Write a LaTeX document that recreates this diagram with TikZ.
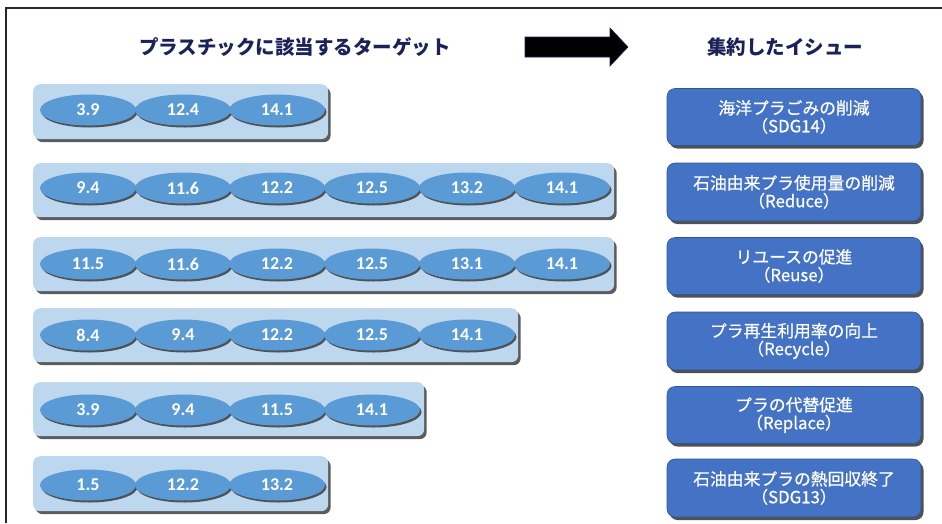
\documentclass[tikz,border=0pt]{standalone}
\usepackage{fontspec}
\setsansfont{Carlito}
\newfontfamily\jp{Noto Sans CJK JP}
\newfontfamily\jpm{Noto Sans CJK JP}[FakeBold=0.6]
\usetikzlibrary{shapes.geometric,shadows}
\definecolor{rowfill}{HTML}{BDD7EE}
\definecolor{ellfill}{HTML}{5B9BD5}
\definecolor{issuefill}{HTML}{4472C4}
\definecolor{issueedge}{HTML}{2F5597}
\definecolor{headtext}{HTML}{1B2159}
\tikzset{
  rowbox/.style={fill=rowfill, rounded corners=7pt, draw=none, inner sep=0pt, anchor=north west,
    drop shadow={shadow xshift=2.5pt, shadow yshift=-3pt, opacity=0.85, fill=black!75}},
  sdg/.style={ellipse, fill=ellfill, minimum width=96pt, minimum height=31pt, inner sep=0pt,
    text=white, font=\sffamily\bfseries\fontsize{18}{20}\selectfont,
    drop shadow={shadow xshift=1.5pt, shadow yshift=-2pt, opacity=0.8, fill=black!80}},
  issue/.style={fill=issuefill, draw=issueedge, line width=0.6pt, rounded corners=8pt,
    minimum width=254pt, text=white, align=center, inner sep=0pt,
    font=\jpm\fontsize{16.8}{18}\selectfont,
    drop shadow={shadow xshift=2.5pt, shadow yshift=-3pt, opacity=0.85, fill=black!80}},
  header/.style={text=headtext, font=\jp\bfseries\fontsize{19.5}{22}\selectfont},
}
\begin{document}
\begin{tikzpicture}[x=1pt,y=-1pt]
\useasboundingbox (0,0) rectangle (942,523);
% frame
\coordinate (fb) at (6,523);
\coordinate (fc) at (6,8);
\coordinate (fr) at (942,8);
\draw[line width=1.4pt, black!85] (fb) -- (fc) -- (fr);
% headers
\node[header] (h1) at (295,47) {プラスチックに該当するターゲット};
\node[header] (h2) at (785,47) {集約したイシュー};
% block arrow
\coordinate (a0) at (525,37);
\draw[fill=black, draw=headtext, line width=0.6pt]
  (a0) -- (610,37) -- (610,28) -- (628,47) -- (610,66) -- (610,57) -- (525,57) -- cycle;
% row 1
\node[rowbox, minimum width=295pt, minimum height=55pt] (r1) at (33,84) {};
\node[sdg] (r1a) at (88,110) {3.9};
\node[sdg] (r1b) at (183,110) {12.4};
\node[sdg] (r1c) at (277,110) {14.1};
% row 2
\node[rowbox, minimum width=581pt, minimum height=54pt] (r2) at (33,163) {};
\node[sdg] (r2a) at (88,188) {9.4};
\node[sdg] (r2b) at (183,188) {11.6};
\node[sdg] (r2c) at (277,188) {12.2};
\node[sdg] (r2d) at (372,188) {12.5};
\node[sdg] (r2e) at (467,188) {13.2};
\node[sdg] (r2f) at (562,188) {14.1};
% row 3
\node[rowbox, minimum width=581pt, minimum height=54pt] (r3) at (33,237) {};
\node[sdg] (r3a) at (88,264) {11.5};
\node[sdg] (r3b) at (183,264) {11.6};
\node[sdg] (r3c) at (277,264) {12.2};
\node[sdg] (r3d) at (372,264) {12.5};
\node[sdg] (r3e) at (467,264) {13.1};
\node[sdg] (r3f) at (562,264) {14.1};
% row 4
\node[rowbox, minimum width=485pt, minimum height=54pt] (r4) at (33,308) {};
\node[sdg] (r4a) at (88,335) {8.4};
\node[sdg] (r4b) at (183,335) {9.4};
\node[sdg] (r4c) at (277,335) {12.2};
\node[sdg] (r4d) at (372,335) {12.5};
\node[sdg] (r4e) at (467,335) {14.1};
% row 5
\node[rowbox, minimum width=391pt, minimum height=54pt] (r5) at (33,382) {};
\node[sdg] (r5a) at (88,410) {3.9};
\node[sdg] (r5b) at (183,410) {9.4};
\node[sdg] (r5c) at (277,410) {11.5};
\node[sdg] (r5d) at (372,410) {14.1};
% row 6
\node[rowbox, minimum width=295pt, minimum height=55pt] (r6) at (33,456) {};
\node[sdg] (r6a) at (88,485) {1.5};
\node[sdg] (r6b) at (183,485) {12.2};
\node[sdg] (r6c) at (277,485) {13.2};
% issues
\node[issue, minimum height=57pt] (i1) at (794,117) {海洋プラごみの削減\\（SDG14）};
\node[issue, minimum height=58pt] (i2) at (794,192) {石油由来プラ使用量の削減\\（Reduce）};
\node[issue, minimum height=57pt] (i3) at (794,266) {リユースの促進\\（Reuse）};
\node[issue, minimum height=58pt] (i4) at (794,341) {プラ再生利用率の向上\\（Recycle）};
\node[issue, minimum height=57pt] (i5) at (794,415) {プラの代替促進\\（Replace）};
\node[issue, minimum height=58pt] (i6) at (794,488) {石油由来プラの熱回収終了\\（SDG13）};
\end{tikzpicture}
\end{document}
